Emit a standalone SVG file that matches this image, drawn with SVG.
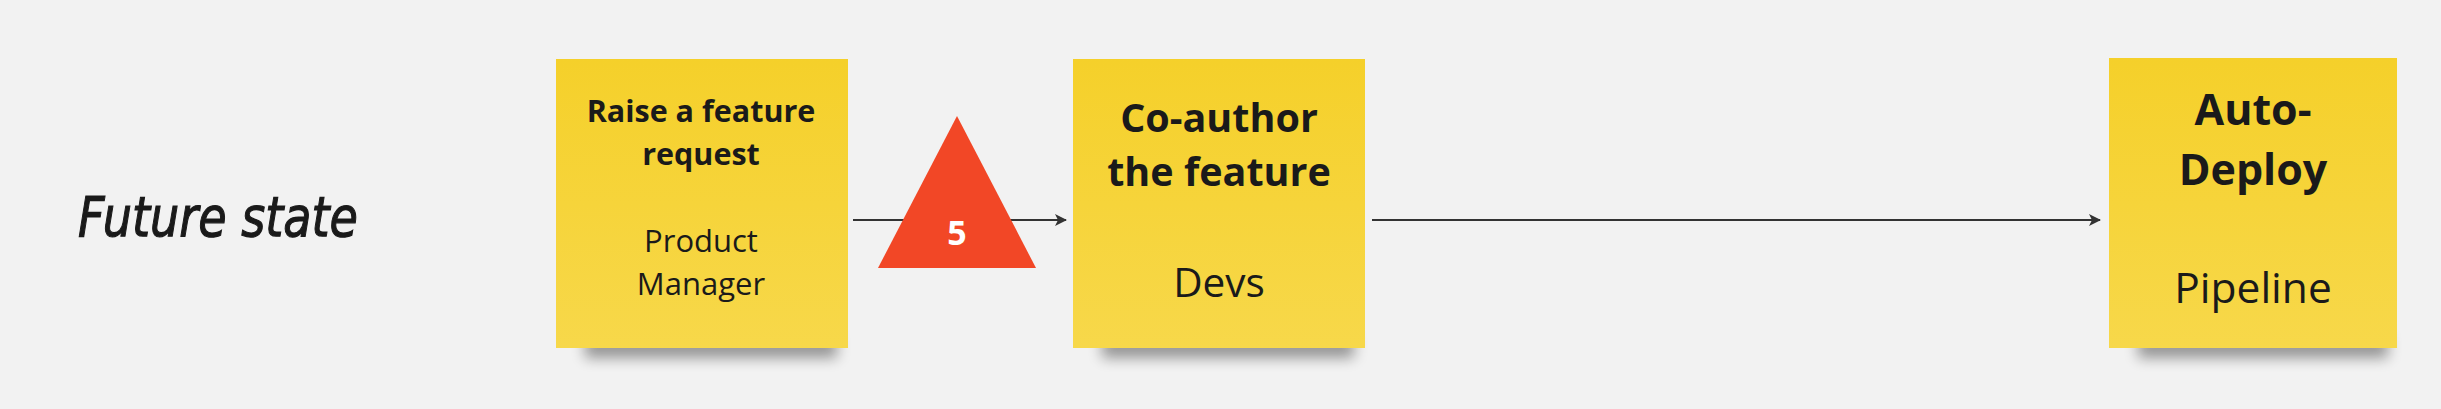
<svg xmlns="http://www.w3.org/2000/svg" width="2441" height="409" viewBox="0 0 2441 409">
<defs>
<linearGradient id="stickyFill" x1="0" y1="0" x2="0" y2="1">
<stop offset="0" stop-color="#F5D02A"/>
<stop offset="1" stop-color="#F7D84A"/>
</linearGradient>
<filter id="shadowBlur" x="-20%" y="-100%" width="140%" height="300%">
<feGaussianBlur stdDeviation="7"/>
</filter>
<marker id="arrow" viewBox="0 0 12 12" refX="11" refY="6" markerWidth="12" markerHeight="12" markerUnits="userSpaceOnUse" orient="auto">
<path d="M0,0 L12,6 L0,12 L3,6 Z" fill="#333333"/>
</marker>
</defs>
<style>
.bold{font-family:"Open Sans","Noto Sans",sans-serif;font-weight:700;fill:#1a1a1a;text-anchor:middle}
.reg{font-family:"Open Sans","Noto Sans",sans-serif;font-weight:400;fill:#1a1a1a;text-anchor:middle}
.shadow{fill:#000;opacity:0.38;filter:url(#shadowBlur)}
.sticky{fill:url(#stickyFill)}
.conn{stroke:#333333;stroke-width:2;fill:none}
</style>
<rect width="2441" height="409" fill="#F2F2F2"/>

<g id="title">
<text x="78" y="236" font-family="'DejaVu Sans','Liberation Sans',sans-serif" font-style="italic" font-weight="400" font-size="56" fill="#1a1a1a" stroke="#1a1a1a" stroke-width="1.2" textLength="280" lengthAdjust="spacingAndGlyphs">Future state</text>
</g>

<g id="connectors">
<line class="conn" x1="853" y1="220" x2="1066" y2="220" marker-end="url(#arrow)"/>
<line class="conn" x1="1372" y1="220" x2="2100" y2="220" marker-end="url(#arrow)"/>
</g>

<g id="node-raise">
<rect class="shadow" x="585" y="336" width="252" height="22"/>
<rect class="sticky" x="556" y="59" width="292" height="289"/>
<text class="bold" x="701" y="122" font-size="30.5">Raise a feature</text>
<text class="bold" x="701" y="165" font-size="30.5">request</text>
<text class="reg" x="701" y="252" font-size="31">Product</text>
<text class="reg" x="701" y="295" font-size="31">Manager</text>
</g>

<g id="node-wait">
<polygon points="957,116 878,268 1036,268" fill="#F24726"/>
<text x="957" y="245" font-family="'Open Sans','Noto Sans',sans-serif" font-weight="700" font-size="34" fill="#FFFFFF" text-anchor="middle">5</text>
</g>

<g id="node-coauthor">
<rect class="shadow" x="1102" y="336" width="252" height="22"/>
<rect class="sticky" x="1073" y="59" width="292" height="289"/>
<text class="bold" x="1219" y="132" font-size="39.5">Co-author</text>
<text class="bold" x="1219" y="186" font-size="39.5">the feature</text>
<text class="reg" x="1219" y="297" font-size="40.5">Devs</text>
</g>

<g id="node-deploy">
<rect class="shadow" x="2138" y="336" width="250" height="22"/>
<rect class="sticky" x="2109" y="58" width="288" height="290"/>
<text class="bold" x="2253" y="125" font-size="43">Auto-</text>
<text class="bold" x="2253" y="185" font-size="43">Deploy</text>
<text class="reg" x="2253" y="303" font-size="42.5">Pipeline</text>
</g>
</svg>
